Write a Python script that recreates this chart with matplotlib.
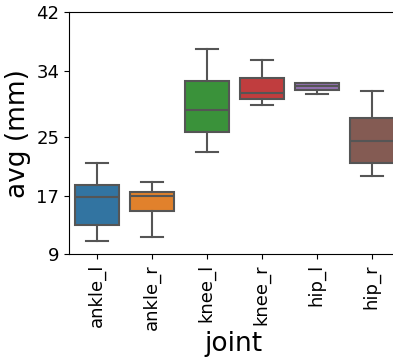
import matplotlib
matplotlib.use("Agg")
import matplotlib.pyplot as plt

# box statistics (mm)
joints = ["ankle_l", "ankle_r", "knee_l", "knee_r", "hip_l", "hip_r"]
whislo = [10.8, 11.3, 23.0, 29.4, 30.8, 19.6]
q1 = [13.0, 14.9, 25.7, 30.2, 31.4, 21.5]
med = [16.85, 16.9, 28.6, 31.0, 31.95, 24.4]
q3 = [18.4, 17.5, 32.6, 33.0, 32.3, 27.6]
whishi = [21.5, 18.9, 36.9, 35.5, 32.3, 31.3]
colors = ["#3274a1", "#e1812c", "#3a923a", "#c03d3e", "#9372b2", "#845b53"]
yticks = [9, 17, 25, 34, 42]

stats = []
for i, name in enumerate(joints):
    stats.append(dict(label=name, whislo=whislo[i], q1=q1[i], med=med[i],
                      q3=q3[i], whishi=whishi[i], fliers=[]))

fig = plt.figure(figsize=(3.93, 3.59), dpi=100)
ax = fig.add_axes([69/393, 104.7/359, 330/393, 242.3/359])

lc = "#555555"
bp = ax.bxp(stats, positions=range(len(joints)), widths=0.8, capwidths=0.4,
            patch_artist=True, showfliers=False,
            boxprops=dict(edgecolor=lc, linewidth=1.5),
            medianprops=dict(color=lc, linewidth=1.5),
            whiskerprops=dict(color=lc, linewidth=1.5),
            capprops=dict(color=lc, linewidth=1.5))
for patch, c in zip(bp["boxes"], colors):
    patch.set_facecolor(c)

ax.set_xlim(-0.5, len(joints) - 0.5)
ax.set_ylim(9, 42)
ax.set_yticks(yticks)
ax.set_xticks(range(len(joints)))
ax.set_xticklabels(joints, rotation=90)
ax.tick_params(labelsize=13)
ax.set_xlabel("joint", fontsize=19, labelpad=1)
ax.set_ylabel("avg (mm)", fontsize=19)

fig.savefig("out.png", dpi=100)
